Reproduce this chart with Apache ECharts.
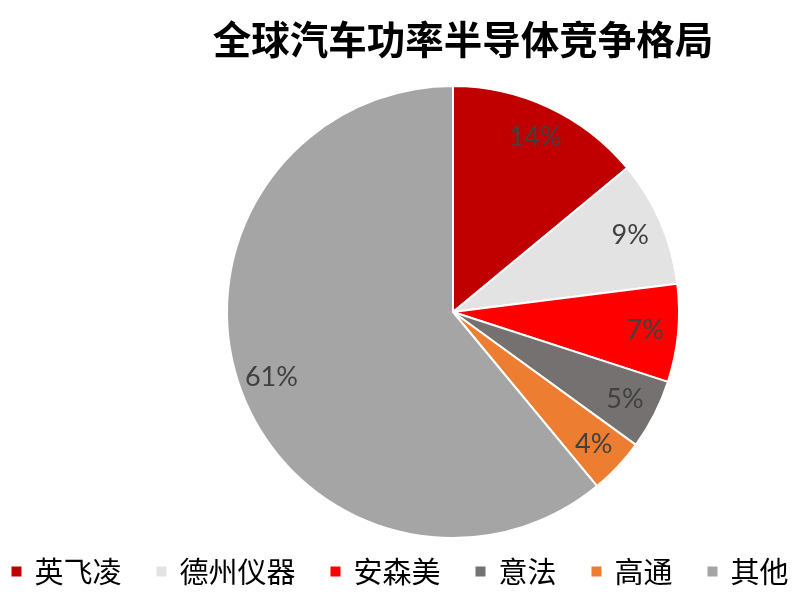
<!DOCTYPE html>
<html>
<head>
<meta charset="utf-8">
<script src="https://cdn.jsdelivr.net/npm/echarts@6/dist/echarts.min.js"></script>
<style>html,body{margin:0;padding:0;background:#fff;}#c{width:798px;height:597px;}</style>
</head>
<body>
<div id="c"></div>
<script>
const titleText = '全球汽车功率半导体竞争格局';
const categories = ['英飞凌', '德州仪器', '安森美', '意法', '高通', '其他'];
const values = [14, 9, 7, 5, 4, 61];
const colors = ['#C00000', '#E3E3E3', '#FF0000', '#767171', '#ED7D31', '#A5A5A5'];

const chart = echarts.init(document.getElementById('c'), null, {renderer: 'canvas'});
const mainData = categories.map((n, i) => ({name: n, value: values[i], itemStyle: {color: colors[i]}}));
const labelData = categories.map((n, i) => ({name: n, value: values[i]}));

chart.setOption({
  animation: false,
  backgroundColor: '#fff',
  title: {
    text: titleText,
    left: 458, top: 15, textAlign: 'center',
    textStyle: {fontFamily: 'Noto Sans CJK SC', fontWeight: 'bold', fontSize: 38.5, color: '#000'}
  },
  legend: {
    data: categories,
    left: 'center', top: 552,
    itemWidth: 12, itemHeight: 12, itemGap: 33,
    icon: 'rect',
    selectedMode: false,
    textStyle: {fontFamily: 'Noto Sans CJK SC', fontSize: 29, color: '#000', padding: [0, 0, 0, 7]}
  },
  series: [
    {
      type: 'pie',
      center: [453, 312],
      radius: [0, 226],
      startAngle: 90,
      clockwise: true,
      silent: true,
      data: mainData,
      itemStyle: {borderColor: '#fff', borderWidth: 2},
      label: {show: false},
      labelLine: {show: false}
    },
    {
      type: 'pie',
      center: [453, 312],
      radius: [168, 212],
      startAngle: 90,
      clockwise: true,
      silent: true,
      data: labelData,
      itemStyle: {color: 'rgba(0,0,0,0)', borderWidth: 0},
      label: {
        show: true, position: 'inside',
        formatter: p => p.value + '%',
        fontFamily: 'Lato', fontSize: 27, color: '#404040'
      },
      labelLine: {show: false}
    }
  ]
});
</script>
</body>
</html>
